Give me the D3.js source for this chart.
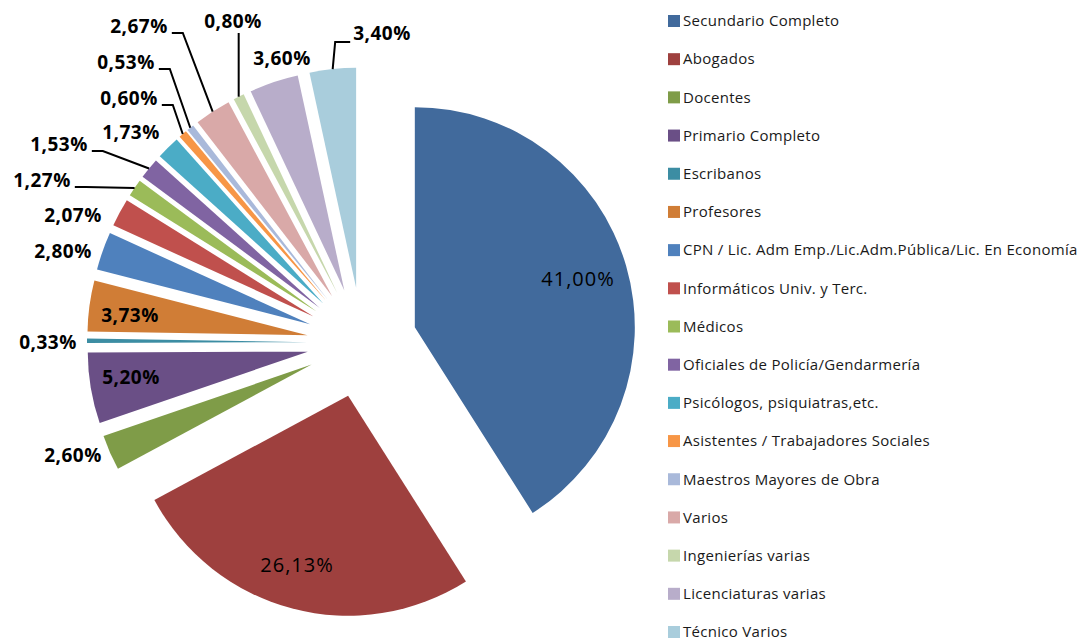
<!DOCTYPE html>
<html>
<head>
<meta charset="utf-8">
<script src="https://cdn.jsdelivr.net/npm/d3@7"></script>
<style>
  body { margin: 0; background: #fff; }
  svg text { font-family: "Open Sans", "Liberation Sans", sans-serif; }
  .pct { font-size: 19px; font-weight: 700; fill: #000; letter-spacing: 0.5px; }
  .legend_text { font-size: 15px; fill: #1a1a1a; letter-spacing: 0.3px; }
</style>
</head>
<body>
<div id="chart"></div>
<script>
var categories = ["Secundario Completo", "Abogados", "Docentes", "Primario Completo", "Escribanos",
    "Profesores", "CPN / Lic. Adm Emp./Lic.Adm.Pública/Lic. En Economía", "Informáticos Univ. y Terc.",
    "Médicos", "Oficiales de Policía/Gendarmería", "Psicólogos, psiquiatras,etc.",
    "Asistentes / Trabajadores Sociales", "Maestros Mayores de Obra", "Varios",
    "Ingenierías varias", "Licenciaturas varias", "Técnico Varios"];
var percents = [41.00, 26.13, 2.60, 5.20, 0.33, 3.73, 2.80, 2.07, 1.27, 1.53, 1.73, 0.60, 0.53, 2.67, 0.80, 3.60, 3.40];
var colors = ["#416a9c", "#9e403e", "#7f9c48", "#6a4f86", "#3c8da3", "#d07d36", "#4f81bd", "#c0504d",
    "#9bbb59", "#8064a2", "#4bacc6", "#f79646", "#a9b9da", "#d9a9a8", "#c6d7ac", "#b8adca", "#a9cddc"];

// label placement (layout only): text centre, and where the leader line leaves the text
var label_pos = [[578, 279], [297, 565], [73, 455], [131, 377], [48, 342], [130, 315], [63, 251], [73, 215],
    [42, 180], [59, 144], [131, 132], [129, 98], [126, 62], [139, 26], [233, 21], [282, 58], [382, 33]];
var leader = [null, null, null, null, null, null, null, null,
    'right', 'right', null, 'right', 'right', 'right', 'below', null, 'left'];

var W = 1090, H = 642;
var cx = 362, cy = 342.5, radius = 220, explode = 55;

var svg = d3.select('#chart').append('svg').attr('width', W).attr('height', H);

var pie = d3.pie().sort(null).value(d => d);
var arcs = pie(percents);
var arc = d3.arc().innerRadius(0).outerRadius(radius);

function dir(a) { return [Math.sin(a), -Math.cos(a)]; }

var slices = svg.append('g').attr('class', 'slices');
arcs.forEach(function (d, i) {
    var mid = (d.startAngle + d.endAngle) / 2;
    var v = dir(mid);
    var ox = cx + explode * v[0], oy = cy + explode * v[1];
    d.anchor = [ox + radius * v[0], oy + radius * v[1]];
    slices.append('path')
        .attr('d', arc(d))
        .attr('transform', 'translate(' + ox + ',' + oy + ')')
        .attr('fill', colors[i]);
});

var labels = svg.append('g').attr('class', 'labels');
var fmt = d3.format('.2f');
arcs.forEach(function (d, i) {
    var p = label_pos[i];
    var t = labels.append('text')
        .attr('class', 'pct')
        .attr('x', p[0]).attr('y', p[1])
        .attr('dy', '0.36em')
        .attr('text-anchor', 'middle')
        .text(fmt(percents[i]).replace('.', ',') + '%');
    if (i < 2) t.style('font-weight', 500).style('font-size', '20px').style('letter-spacing', '1px');
    if (!leader[i]) return;
    var w = t.node().getComputedTextLength();
    var pts;
    if (leader[i] == 'right') {
        var s = [p[0] + w / 2 + 4, p[1] + 7];
        pts = [s, [s[0] + 11, s[1]], d.anchor];
    } else if (leader[i] == 'left') {
        var s = [p[0] - w / 2 - 3, p[1] + 9];
        pts = [s, [s[0] - 15, s[1]], d.anchor];
    } else {
        pts = [[d.anchor[0], p[1] + 12], d.anchor];
    }
    labels.append('path')
        .attr('d', d3.line()(pts))
        .attr('fill', 'none')
        .attr('stroke', '#000')
        .attr('stroke-width', 2);
});

var legend = svg.append('g').attr('class', 'legend');
var ly = d3.scalePoint().domain(categories).range([21, 632]);
categories.forEach(function (c, i) {
    legend.append('rect')
        .attr('x', 668).attr('y', ly(c) - 6)
        .attr('width', 12).attr('height', 12)
        .attr('fill', colors[i]);
    legend.append('text')
        .attr('class', 'legend_text')
        .attr('x', 683).attr('y', ly(c))
        .attr('dy', '0.35em')
        .text(c);
});
</script>
</body>
</html>
